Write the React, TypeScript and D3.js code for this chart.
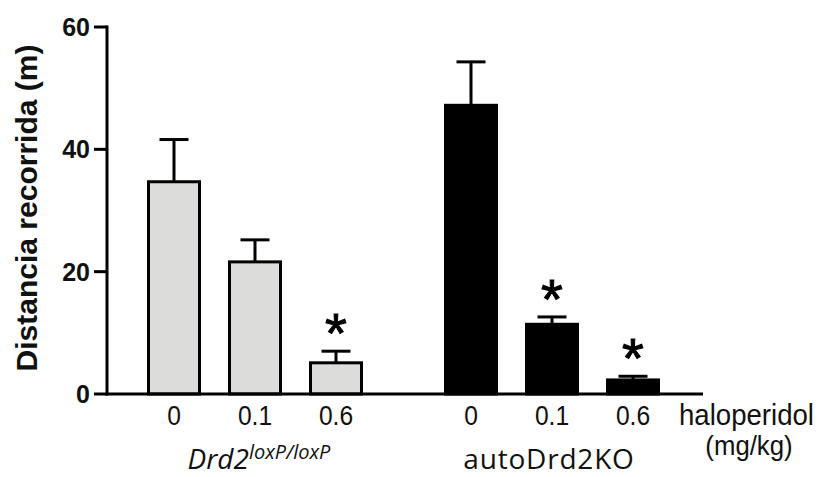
import React from "react";
import * as d3 from "d3";

const groups = ["Drd2", "autoDrd2KO"];
const doses = ["0", "0.1", "0.6"];
const meanCtrl = [34.7, 21.6, 5.1];
const semCtrl = [6.9, 3.6, 1.9];
const sigCtrl = [false, false, true];
const meanKO = [47.2, 11.4, 2.3];
const semKO = [7.1, 1.2, 0.6];
const sigKO = [false, true, true];
const yTicks = [0, 20, 40, 60];

const W = 822;
const H = 477;

export default function App() {
  const y = d3.scaleLinear().domain([0, 60]).range([394, 27]);
  const xGroup = d3
    .scaleBand<string>()
    .domain(groups)
    .range([133.5, 673.5])
    .paddingInner(54 / 297)
    .paddingOuter(0);
  const xDose = d3
    .scaleBand<string>()
    .domain(doses)
    .range([0, xGroup.bandwidth()])
    .paddingInner(1 / 3)
    .paddingOuter(1 / 6);

  const series = [
    { g: groups[0], mean: meanCtrl, sem: semCtrl, sig: sigCtrl, fill: "#dcdcda", stroke: "#000" },
    { g: groups[1], mean: meanKO, sem: semKO, sig: sigKO, fill: "#000", stroke: "#000" },
  ];
  const bw = xDose.bandwidth();
  const capW = 29;
  const axisX = 107;
  const y0 = y(0);
  const sans = "'Liberation Sans', Arial, sans-serif";

  return (
    <svg
      width={W}
      height={H}
      style={{ position: "absolute", left: 0, top: 0, background: "#fff" }}
    >
      <rect x={0} y={0} width={W} height={H} fill="#fff" />
      {/* bars */}
      {series.map((s) =>
        doses.map((d, i) => {
          const x0 = (xGroup(s.g) as number) + (xDose(d) as number);
          const cx = x0 + bw / 2;
          const top = y(s.mean[i]);
          const cap = y(s.mean[i] + s.sem[i]);
          return (
            <g key={s.g + d}>
              <line x1={cx} x2={cx} y1={top} y2={cap} stroke="#000" strokeWidth={3} />
              <line x1={cx - capW / 2} x2={cx + capW / 2} y1={cap} y2={cap} stroke="#000" strokeWidth={3} />
              <rect
                x={x0 + 1.5}
                y={top}
                width={bw - 3}
                height={y0 - top}
                fill={s.fill}
                stroke={s.stroke}
                strokeWidth={3}
              />
              {s.sig[i] && (
                <text
                  x={cx}
                  y={cap - 24 + 25}
                  textAnchor="middle"
                  fontFamily={sans}
                  fontSize={56}
                  fill="#000"
                  stroke="#000"
                  strokeWidth={1}
                >
                  *
                </text>
              )}
            </g>
          );
        })
      )}
      {/* y axis */}
      <line x1={axisX} x2={axisX} y1={y(60) - 1.5} y2={y0 + 1.5} stroke="#000" strokeWidth={3} />
      {yTicks.map((t) => (
        <g key={t}>
          <line x1={94} x2={axisX} y1={y(t)} y2={y(t)} stroke="#000" strokeWidth={3} />
          <text
            x={90}
            y={y(t)}
            dy="0.36em"
            textAnchor="end"
            fontFamily={sans}
            fontWeight="bold"
            fontSize={25}
            fill="#111"
          >
            {t}
          </text>
        </g>
      ))}
      {/* x axis */}
      <line x1={axisX - 1.5} x2={703} y1={y0} y2={y0} stroke="#000" strokeWidth={3} />
      {groups.map((g) =>
        doses.map((d) => (
          <text
            key={g + d}
            transform={`translate(${(xGroup(g) as number) + (xDose(d) as number) + bw / 2}, 425) scale(0.88, 1)`}
            textAnchor="middle"
            fontFamily={sans}
            fontSize={28}
            fill="#111"
          >
            {d}
          </text>
        ))
      )}
      <text transform="translate(679, 425) scale(0.92, 1)" fontFamily={sans} fontSize={30} fill="#111">
        haloperidol
      </text>
      <text transform="translate(749, 455) scale(0.92, 1)" textAnchor="middle" fontFamily={sans} fontSize={28} fill="#111">
        (mg/kg)
      </text>
      {/* group labels */}
      <text
        x={(xGroup(groups[0]) as number) + xGroup.bandwidth() / 2 + 4}
        y={469}
        textAnchor="middle"
        fontFamily="'Open Sans', sans-serif"
        fontStyle="italic"
        fontSize={28}
        fill="#111"
      >
        Drd2
        <tspan fontSize={20} dy={-10}>
          loxP/loxP
        </tspan>
      </text>
      <text
        x={(xGroup(groups[1]) as number) + xGroup.bandwidth() / 2 - 3}
        y={469}
        textAnchor="middle"
        fontFamily="'Open Sans', sans-serif"
        fontSize={28}
        letterSpacing={0.8}
        fill="#111"
      >
        autoDrd2KO
      </text>
      {/* y label */}
      <text
        transform={`translate(37, 208) rotate(-90)`}
        textAnchor="middle"
        fontFamily={sans}
        fontWeight="bold"
        fontSize={30}
        fill="#111"
      >
        Distancia recorrida (m)
      </text>
    </svg>
  );
}
